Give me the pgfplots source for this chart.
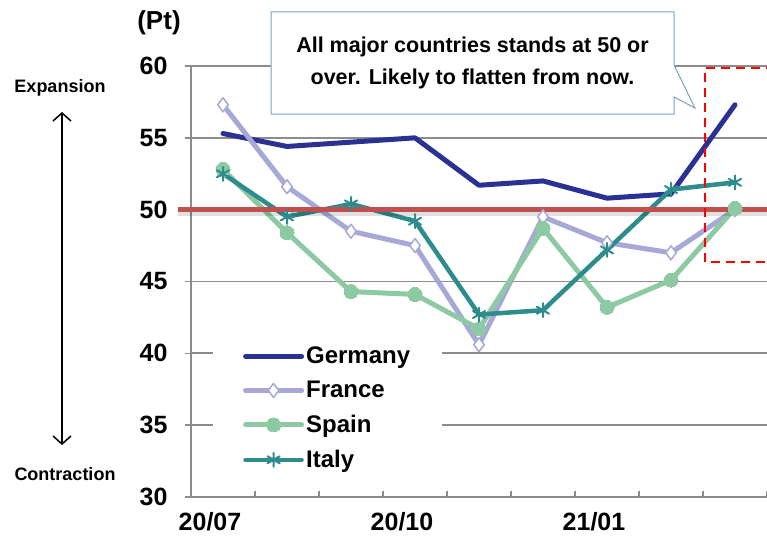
\documentclass[border=0pt]{standalone}
\usepackage{fontspec}
\setmainfont{Liberation Sans}
\usepackage{pgfplots}
\pgfplotsset{compat=1.18}
\usetikzlibrary{arrows.meta}
\definecolor{ger}{RGB}{43,49,146}
\definecolor{fra}{RGB}{166,168,214}
\definecolor{spa}{RGB}{141,201,163}
\definecolor{ita}{RGB}{46,140,140}
\definecolor{refl}{RGB}{192,80,77}
\definecolor{gridc}{RGB}{140,140,140}
\definecolor{callb}{RGB}{120,160,205}
\begin{document}
\begin{tikzpicture}[x=1pt,y=1pt]
\path[use as bounding box] (-191,-45) rectangle (576,497);
\begin{axis}[
  at={(0,0)}, anchor=south west,
  scale only axis, width=576pt, height=431pt,
  xmin=-0.5, xmax=8.5, ymin=30, ymax=60,
  clip=false,
  axis x line*=bottom, axis y line*=left,
  axis line style={gridc, line width=1.8pt},
  ytick={30,35,...,60},
  ymajorgrids, grid style={gridc, line width=1.8pt},
  xtick={-0.5,0.5,...,8.5}, xticklabels={},
  extra x ticks={0,3,6}, extra x tick labels={20/07,20/10,21/01},
  extra x tick style={tick style={draw=none}, xticklabel style={xshift=-13pt}},
  tick align=inside, major tick length=6pt,
  tick style={gridc, line width=1.5pt},
  y tick style={xshift=-6pt},
  ticklabel style={font=\fontsize{25}{29}\bfseries\selectfont},
  /pgf/number format/assume math mode=true,
  yticklabel style={xshift=-20pt},
  xticklabel style={yshift=-12pt},
  legend style={at={(rel axis cs:0.038,0.362)}, anchor=north west, draw=none, fill=white,
    font=\fontsize{24}{28}\bfseries\selectfont, row sep=12pt, inner xsep=30pt, inner ysep=4pt},
  legend cell align=left,
  legend image code/.code={\draw[mark repeat=2,mark phase=2] plot coordinates {(0pt,0pt) (28pt,0pt) (56pt,0pt)};},
  every axis plot/.append style={line cap=round, line join=round},
]
\addplot[ger, line width=5pt, mark=none] coordinates {(0,55.3)(1,54.4)(2,54.7)(3,55.0)(4,51.7)(5,52.0)(6,50.8)(7,51.1)(8,57.3)};
\addlegendentry{Germany}
\addplot[fra, line width=5pt, mark=diamond*, mark size=7pt, mark options={fill=white, draw=fra, line width=1.5pt}] coordinates {(0,57.3)(1,51.6)(2,48.5)(3,47.5)(4,40.6)(5,49.5)(6,47.7)(7,47.0)(8,50.0)};
\addlegendentry{France}
\addplot[spa, line width=5pt, mark=*, mark size=7pt, mark options={fill=spa, draw=spa, line width=0pt}] coordinates {(0,52.8)(1,48.4)(2,44.3)(3,44.1)(4,41.7)(5,48.7)(6,43.2)(7,45.1)(8,50.1)};
\addlegendentry{Spain}
\addplot[ita, line width=4.5pt, mark=asterisk, mark size=7pt, mark options={draw=ita, line width=2pt}] coordinates {(0,52.5)(1,49.5)(2,50.4)(3,49.2)(4,42.7)(5,43.0)(6,47.2)(7,51.4)(8,51.9)};
\addlegendentry{Italy}
\draw[black, opacity=0.12, line width=6pt] ([yshift=-3pt]axis cs:-0.7,50) -- ([yshift=-3pt]axis cs:8.5,50);
\draw[refl, line width=5pt] (axis cs:-0.7,50) -- (axis cs:8.5,50);
\draw[red, line width=2.5pt, dash pattern=on 9pt off 6pt] (axis cs:8.7,46.35) -- (axis cs:7.53,46.35) -- (axis cs:7.53,59.85) -- (axis cs:8.7,59.85);
\end{axis}
\draw[callb, line width=1pt, fill=white] (80,485) -- (483,485) -- (483,432) -- (504,389) -- (483,400) -- (483,383) -- (80,383) -- cycle;
\node[font=\fontsize{21.5}{32}\bfseries\selectfont, align=center] at (281.5,434) {All major countries stands at 50 or\\over. Likely to flatten from now.};
\node[font=\fontsize{26}{30}\bfseries\selectfont] at (-32,474) {(Pt)};
\node[font=\fontsize{18}{20}\bfseries\selectfont] at (-131,409) {Expansion};
\node[font=\fontsize{18}{20}\bfseries\selectfont] at (-126,23) {Contraction};
\draw[{Straight Barb[length=8pt,width=18pt]}-{Straight Barb[length=8pt,width=18pt]}, line width=1.5pt] (-129,385) -- (-129,52);
\end{tikzpicture}
\end{document}
